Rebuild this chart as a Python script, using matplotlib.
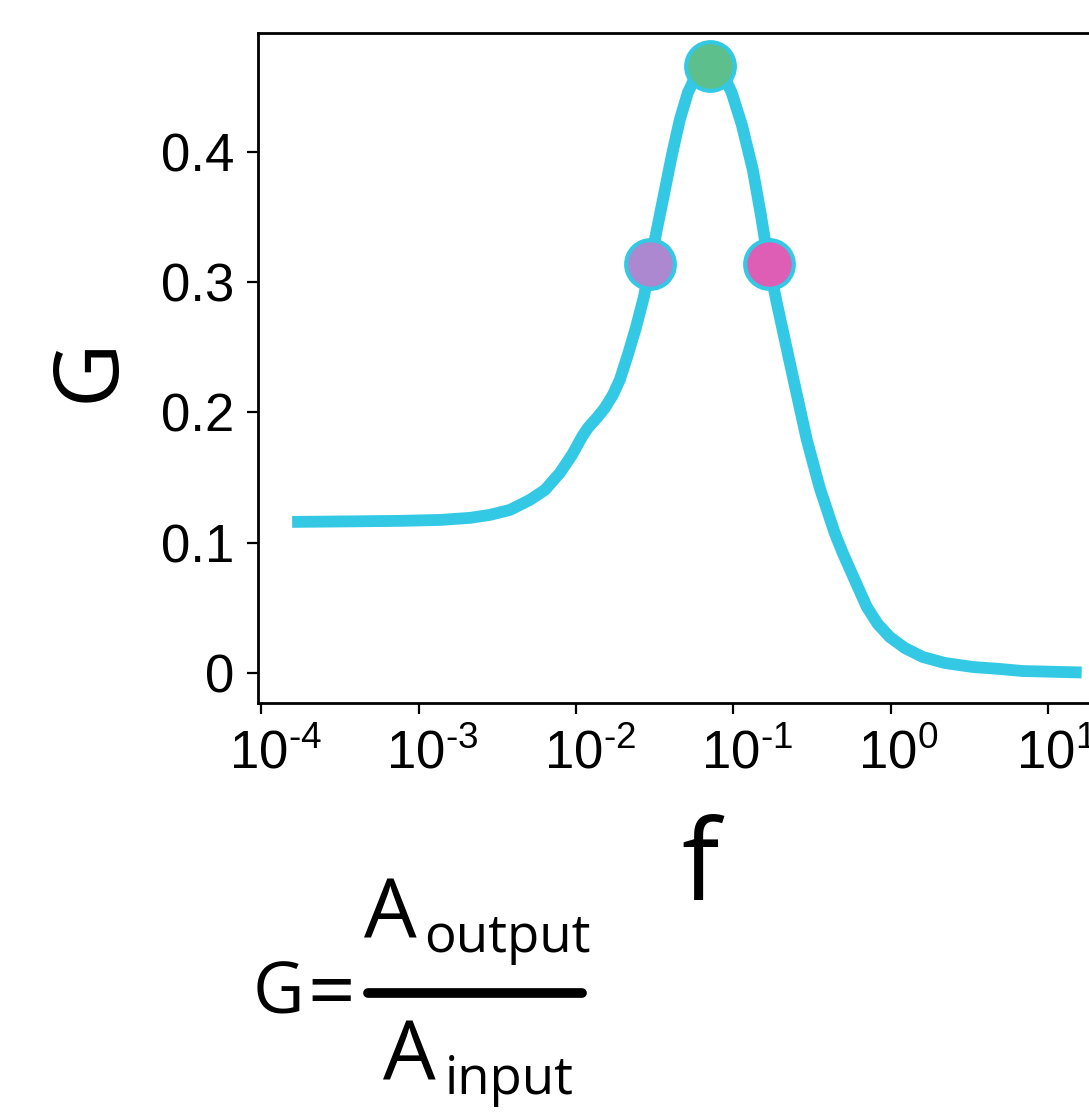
import numpy as np
import matplotlib
matplotlib.use("Agg")
import matplotlib.pyplot as plt
from matplotlib.lines import Line2D
from matplotlib.transforms import ScaledTranslation

plt.rcParams['font.family'] = ['Liberation Sans', 'DejaVu Sans']
plt.rcParams['mathtext.default'] = 'regular'
plt.rcParams['axes.unicode_minus'] = False

# curve
freq = [1.574e-4, 3.67e-4, 7.64e-4, 1.371e-3, 2.123e-3, 2.844e-3, 3.81e-3,
        5.105e-3, 6.353e-3, 7.91e-3, 9.44e-3, 1.092e-2, 1.191e-2, 1.358e-2,
        1.528e-2, 1.718e-2, 1.901e-2, 2.138e-2, 2.404e-2, 2.704e-2, 2.951e-2,
        3.266e-2, 3.622e-2, 4.074e-2, 4.571e-2, 5.14e-2, 5.78e-2, 6.40e-2,
        7.10e-2, 7.85e-2, 8.83e-2, 9.77e-2, 0.1132, 0.1330, 0.1496, 0.1679,
        0.1888, 0.2286, 0.2931, 0.3540, 0.4406, 0.4955, 0.5902, 0.7047,
        0.8266, 0.9863, 1.227, 1.596, 2.203, 3.318, 4.92, 6.89, 16.33]
gain = [0.1159, 0.1163, 0.1167, 0.1174, 0.1190, 0.1213, 0.1251,
        0.1328, 0.1404, 0.1535, 0.1673, 0.1811, 0.1880, 0.1957,
        0.2034, 0.2134, 0.2249, 0.2441, 0.2648, 0.2886, 0.3131,
        0.3400, 0.3668, 0.3975, 0.4244, 0.4451, 0.4582, 0.4643,
        0.4658, 0.4635, 0.4566, 0.4451, 0.4206, 0.3860, 0.3515, 0.3139,
        0.2840, 0.2379, 0.1788, 0.1420, 0.1074, 0.0921, 0.0714, 0.0507,
        0.0376, 0.0276, 0.0192, 0.0123, 0.0077, 0.0046, 0.0031, 0.0015, 0.0004]

# highlighted points
pt_freq = [2.951e-2, 7.10e-2, 0.1679]
pt_gain = [0.3139, 0.4658, 0.3135]
pt_colors = ['#ab88d0', '#5dbf8b', '#de5db5']

xticks = [1e-4, 1e-3, 1e-2, 1e-1, 1e0, 1e1]
xticklabels = ['$10^{\u2010 4}$', '$10^{\u2010 3}$', '$10^{\u2010 2}$',
               '$10^{\u2010 1}$', '$10^{0}$', '$10^{1}$']
yticks = [0, 0.1, 0.2, 0.3, 0.4]
yticklabels = ['0', '0.1', '0.2', '0.3', '0.4']

line_col = '#33c9e4'

fig = plt.figure(figsize=(10.89, 11.16), dpi=100)
ax = fig.add_axes([0.2369, 0.3701, 0.7906, 0.6004])

ax.plot(freq, gain, color=line_col, lw=8.5, solid_capstyle='butt', zorder=2)
for fx, gy, c in zip(pt_freq, pt_gain, pt_colors):
    ax.plot(fx, gy, 'o', ms=35, mfc=c, mec=line_col, mew=3, zorder=3)

ax.set_xscale('log')
ax.set_xlim(10 ** -4.02, 10 ** 1.45)
ax.set_ylim(-0.023, 0.491)
ax.set_xticks(xticks, xticklabels)
ax.set_yticks(yticks, yticklabels)

for s in ax.spines.values():
    s.set_linewidth(2)
ax.tick_params(which='major', length=8, width=1.6, labelsize=38)
ax.tick_params(which='minor', length=5, width=1.4)
ax.tick_params(axis='y', pad=9)
ax.tick_params(axis='x', pad=11)

ax.set_xlabel('f', family='Open Sans', fontsize=80, va='baseline')
ax.xaxis.set_label_coords(0.513, -0.294)
ax.set_ylabel('G', family='Open Sans', fontsize=64, va='center')
ax.yaxis.set_label_coords(-0.195, 0.497)

# put the "10" of each x tick label under its tick, exponent hanging to the right
fig.canvas.draw()
r = fig.canvas.get_renderer()
probe = fig.text(0, 0, '10', fontsize=38)
base_w = probe.get_window_extent(r).width
probe.remove()
for lbl in ax.get_xticklabels():
    dx = (lbl.get_window_extent(r).width - base_w) / 2 - 3
    lbl.set_transform(lbl.get_transform() + ScaledTranslation(dx / 100, 0, fig.dpi_scale_trans))

# formula below the axes
W, H = 1089, 1116
ff = 'Open Sans'
fig.text(253 / W, 1 - 1013 / H, 'G', family=ff, fontsize=51, va='baseline', ha='left')
fig.text(307 / W, 1 - 1019 / H, '=', family=ff, fontsize=60, va='baseline', ha='left')
fig.text(364 / W, 1 - 938 / H, 'A', family=ff, fontsize=60, va='baseline', ha='left')
fig.text(424 / W, 1 - 952 / H, 'output', family=ff, fontsize=38, va='baseline', ha='left')
fig.text(383 / W, 1 - 1080 / H, 'A', family=ff, fontsize=60, va='baseline', ha='left')
fig.text(445 / W, 1 - 1094 / H, 'input', family=ff, fontsize=38, va='baseline', ha='left')
fig.add_artist(Line2D([368 / W, 582 / W], [1 - 993 / H, 1 - 993 / H], color='black',
                      lw=7, solid_capstyle='round', transform=fig.transFigure))

fig.savefig('out.png', dpi=100)
